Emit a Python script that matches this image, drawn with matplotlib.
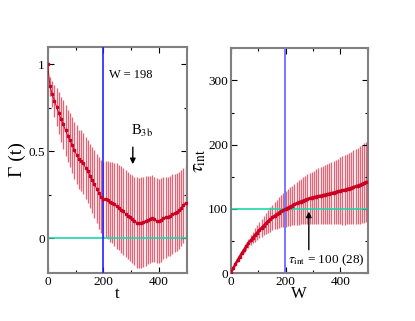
import matplotlib
matplotlib.use("Agg")
import matplotlib.pyplot as plt
from matplotlib.ticker import MultipleLocator

plt.rcParams['font.family'] = ['Liberation Serif', 'DejaVu Serif']
plt.rcParams['mathtext.fontset'] = 'stix'

# ---- data: left panel, autocorrelation Gamma(t) ----
t_vals = list(range(0, 497, 8))
gamma = [1.0, 0.875, 0.83, 0.79, 0.755, 0.72, 0.685, 0.655, 0.62, 0.59,
         0.565, 0.535, 0.505, 0.48, 0.455, 0.445, 0.43, 0.405, 0.385, 0.36,
         0.335, 0.31, 0.285, 0.26, 0.24, 0.225, 0.225, 0.22, 0.21, 0.205,
         0.195, 0.185, 0.175, 0.165, 0.155, 0.14, 0.13, 0.12, 0.11, 0.10,
         0.09, 0.088, 0.09, 0.095, 0.10, 0.105, 0.11, 0.115, 0.11, 0.10,
         0.10, 0.105, 0.115, 0.12, 0.125, 0.13, 0.14, 0.145, 0.15, 0.16,
         0.175, 0.19, 0.205]
gamma_err = [0.0, 0.055, 0.075, 0.09, 0.11, 0.12, 0.13, 0.14, 0.145, 0.15,
             0.155, 0.16, 0.165, 0.17, 0.17, 0.175, 0.175, 0.18, 0.18, 0.185,
             0.19, 0.195, 0.20, 0.205, 0.21, 0.215, 0.22, 0.225, 0.23, 0.235,
             0.24, 0.245, 0.245, 0.25, 0.25, 0.25, 0.25, 0.25, 0.255, 0.255,
             0.26, 0.26, 0.26, 0.26, 0.26, 0.255, 0.25, 0.25, 0.245, 0.245,
             0.24, 0.24, 0.235, 0.235, 0.23, 0.23, 0.23, 0.225, 0.225, 0.22,
             0.22, 0.215, 0.21]

# ---- data: right panel, integrated autocorrelation time tau_int(W) ----
w_vals = list(range(0, 497, 8))
tau = [0.5, 7.2, 13.6, 19.7, 25.5, 31.0, 36.3, 41.4, 46.2, 50.8,
       55.1, 59.2, 63.1, 66.8, 70.3, 73.8, 77.2, 80.5, 83.6, 86.5,
       89.2, 91.7, 94.0, 96.1, 98.0, 99.8, 101.6, 103.4, 105.1, 106.8,
       108.4, 109.9, 111.3, 112.7, 114.0, 115.2, 116.3, 117.3, 118.2, 119.0,
       119.7, 120.4, 121.1, 121.9, 122.7, 123.5, 124.4, 125.3, 126.2, 127.0,
       127.8, 128.6, 129.5, 130.5, 131.5, 132.5, 133.6, 134.8, 136.0, 137.3,
       138.7, 140.2, 141.8]
tau_err = [0, 0.5, 1, 1.8, 2.6, 3.5, 4.5, 5.5, 6.6, 7.8,
           9, 10.2, 11.5, 12.8, 14, 15.3, 16.5, 17.7, 19, 20.2,
           21.4, 22.6, 23.8, 25, 26.2, 27.4, 28.6, 29.8, 31, 32.2,
           33.3, 34.4, 35.5, 36.6, 37.6, 38.6, 39.6, 40.5, 41.4, 42.3,
           43.2, 44.1, 45, 45.9, 46.8, 47.7, 48.6, 49.5, 50.4, 51.3,
           52.2, 53.1, 54, 54.9, 55.8, 56.7, 57.6, 58.5, 59.4, 60.3,
           61.2, 62.1, 63]

W_cut = 198
tau_cut = 100

LINE_RED = '#cc0022'
BAR_RED = '#e16577'
TEAL = '#1fd6a8'
SPINE = '#808080'

fig = plt.figure(figsize=(4.15, 3.21), dpi=100)
ax1 = fig.add_axes([0.115, 0.1495, 0.335, 0.704])
ax2 = fig.add_axes([0.5566, 0.1495, 0.329, 0.700])


def style(ax):
    for s in ax.spines.values():
        s.set_color(SPINE)
        s.set_linewidth(1.5)
    ax.tick_params(which='both', direction='in', top=True, right=True,
                   labelsize=9.5, pad=2, color='black')
    ax.tick_params(which='major', length=4, width=0.8)
    ax.tick_params(which='minor', length=2.5, width=0.8)


# left panel
ax1.errorbar(t_vals, gamma, yerr=gamma_err, fmt='none', ecolor=BAR_RED,
             elinewidth=0.95, zorder=1)
ax1.axhline(0, color=TEAL, lw=1.2, zorder=2)
ax1.axvline(W_cut, color='#2222ff', lw=1.2, zorder=3)
ax1.plot(t_vals, gamma, color=LINE_RED, lw=0.7, marker='s', ms=1.8, zorder=4)
ax1.set_xlim(0, 500)
ax1.set_ylim(-0.2, 1.1)
ax1.xaxis.set_major_locator(MultipleLocator(200))
ax1.xaxis.set_minor_locator(MultipleLocator(100))
ax1.set_yticks([0, 0.5, 1])
ax1.set_yticklabels(['0', '0.5', '1'])
ax1.yaxis.set_minor_locator(MultipleLocator(0.25))
style(ax1)
ax1.set_xlabel('t', fontsize=12, labelpad=-1)
ax1.set_ylabel('Γ (t)', fontsize=14, labelpad=2)
ax1.text(222, 0.94, 'W = 198', fontsize=9, ha='left', va='center')
ax1.text(298, 0.615, r'B$_{\rm 3b}$', fontsize=10.5, ha='left', va='center')
ax1.annotate('', xy=(306, 0.41), xytext=(306, 0.54),
             arrowprops=dict(arrowstyle='-|>', color='black', lw=1.0,
                             mutation_scale=8))

# right panel
ax2.errorbar(w_vals, tau, yerr=tau_err, fmt='none', ecolor=BAR_RED,
             elinewidth=0.95, zorder=1)
ax2.axhline(tau_cut, color=TEAL, lw=1.2, zorder=2)
ax2.axvline(W_cut, color='#7777ff', lw=1.4, zorder=3)
ax2.plot(w_vals, tau, color=LINE_RED, lw=1.8, marker='s', ms=1.6, zorder=4)
ax2.set_xlim(0, 500)
ax2.set_ylim(0, 350)
ax2.xaxis.set_major_locator(MultipleLocator(200))
ax2.xaxis.set_minor_locator(MultipleLocator(100))
ax2.yaxis.set_major_locator(MultipleLocator(100))
ax2.yaxis.set_minor_locator(MultipleLocator(50))
style(ax2)
ax2.set_xlabel('W', fontsize=12, labelpad=-1)
ax2.set_ylabel(r'$\tau_{\rm int}$', fontsize=14, labelpad=0)
ax2.text(208, 20, r'$\tau_{\rm int}$ = 100 (28)', fontsize=9.5,
         ha='left', va='center')
ax2.annotate('', xy=(285, 100), xytext=(285, 32),
             arrowprops=dict(arrowstyle='-|>', color='black', lw=1.0,
                             mutation_scale=8))

fig.savefig('out.png', dpi=100)
